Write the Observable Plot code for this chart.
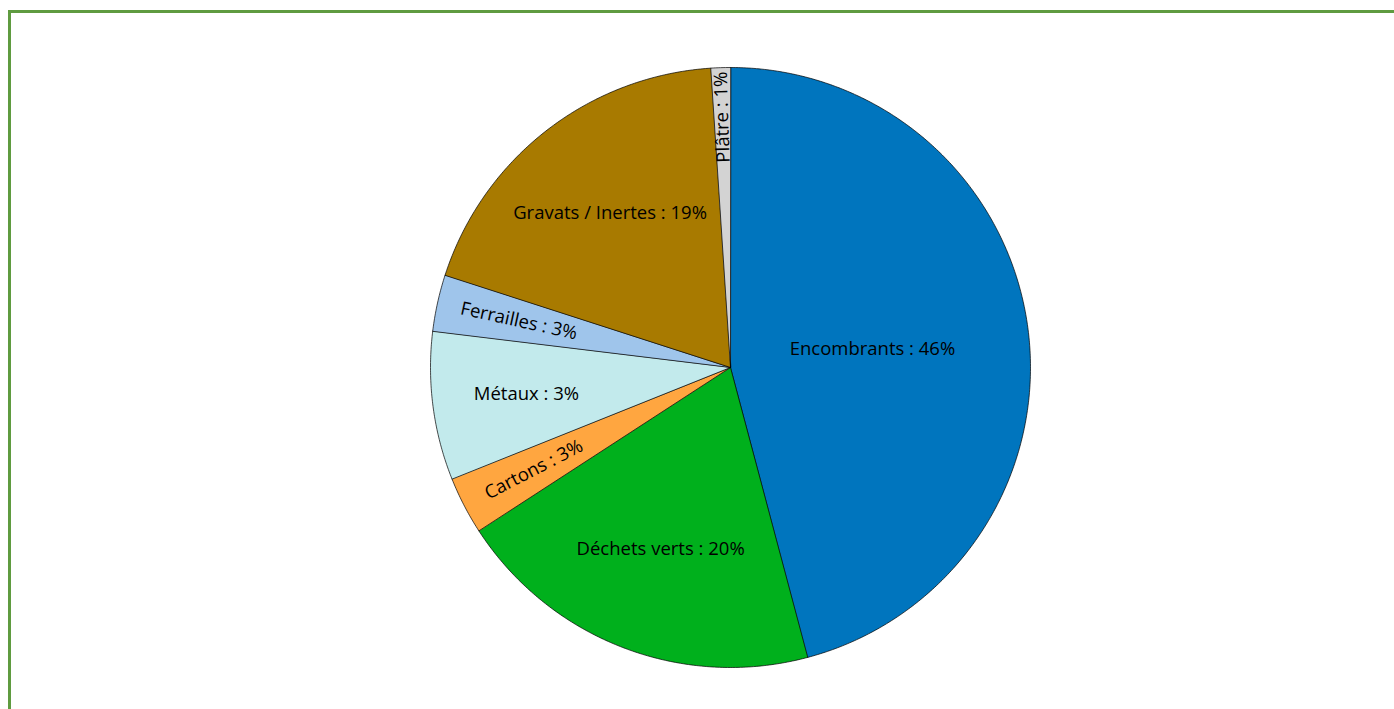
<!DOCTYPE html>
<html>
<head>
<meta charset="utf-8">
<script src="https://cdn.jsdelivr.net/npm/d3@7"></script>
<script src="https://cdn.jsdelivr.net/npm/@observablehq/plot@0.6"></script>
<style>
  html, body { margin: 0; padding: 0; background: #fff; overflow: hidden; }
  #frame { position: absolute; left: 8px; top: 10px; width: 1500px; height: 800px;
           border-top: 3px solid #5f9b40; border-left: 3px solid #5f9b40; }
  #chart { position: absolute; left: 0; top: 0; }
</style>
</head>
<body>
<div id="frame"></div>
<div id="chart"></div>
<script>
const categories = ["Encombrants", "Déchets verts", "Cartons", "Métaux", "Ferrailles", "Gravats / Inertes", "Plâtre"];
const shares = [45.9, 20.0, 3.1, 8.0, 3.05, 19.0, 1.05];
const labelPercents = ["46%", "20%", "3%", "3%", "3%", "19%", "1%"];
const colors = ["#0075be", "#00b01c", "#ffa640", "#c2eaec", "#9fc5eb", "#a87a00", "#d3d3d3"];

const R = 300;               // pixel radius
const fontSize = 18.5;
const font = `${fontSize}px 'Open Sans'`;
const ctx = document.createElement("canvas").getContext("2d");
ctx.font = font;

const total = d3.sum(shares);
let acc = 0;
const slices = categories.map((c, i) => {
  const a0 = acc / total * 2 * Math.PI;
  acc += shares[i];
  const a1 = acc / total * 2 * Math.PI;
  return {category: c, a0, a1, label: `${c} : ${labelPercents[i]}`};
});

// polygon points for each slice (unit circle, y up, angle clockwise from top)
const poly = [];
for (const s of slices) {
  poly.push({category: s.category, x: 0, y: 0});
  const n = Math.max(2, Math.ceil((s.a1 - s.a0) / (Math.PI / 360)));
  for (let k = 0; k <= n; k++) {
    const a = s.a0 + (s.a1 - s.a0) * k / n;
    poly.push({category: s.category, x: Math.sin(a), y: Math.cos(a)});
  }
}

// label positions
const labels = slices.map(s => {
  const mid = (s.a0 + s.a1) / 2;
  const span = s.a1 - s.a0;
  const spanDeg = span * 180 / Math.PI;
  const w = ctx.measureText(s.label).width;
  let r, rotate = 0;
  if (spanDeg < 20) {
    const pad = Math.max(4, Math.min(28, (spanDeg - 3) * 3));
    r = (R - w / 2 - pad) / R;
    let deg = mid * 180 / Math.PI - 270;
    if (deg > 45) deg -= 180;
    rotate = deg;
  } else {
    const alpha = span / 2;
    r = 1.04 * (2 * Math.sin(alpha)) / (3 * alpha);
  }
  return {label: s.label, x: r * Math.sin(mid), y: r * Math.cos(mid), rotate};
});

const cx = 730, cy = 367;
const chart = Plot.plot({
  width: 1394,
  height: 709,
  margin: 0,
  x: {domain: [-1, 1], range: [cx - R, cx + R], axis: null},
  y: {domain: [-1, 1], range: [cy + R, cy - R], axis: null},
  color: {domain: categories, range: colors},
  style: {background: "transparent"},
  marks: [
    Plot.line(poly, {x: "x", y: "y", z: "category", fill: "category", stroke: "#000", strokeWidth: 0.7, curve: "linear-closed"}),
    Plot.text(labels, {x: "x", y: "y", text: "label", rotate: "rotate", fill: "#000",
      fontSize, fontFamily: "Open Sans", textAnchor: "middle", lineAnchor: "middle"})
  ]
});
document.getElementById("chart").appendChild(chart);
</script>
</body>
</html>
